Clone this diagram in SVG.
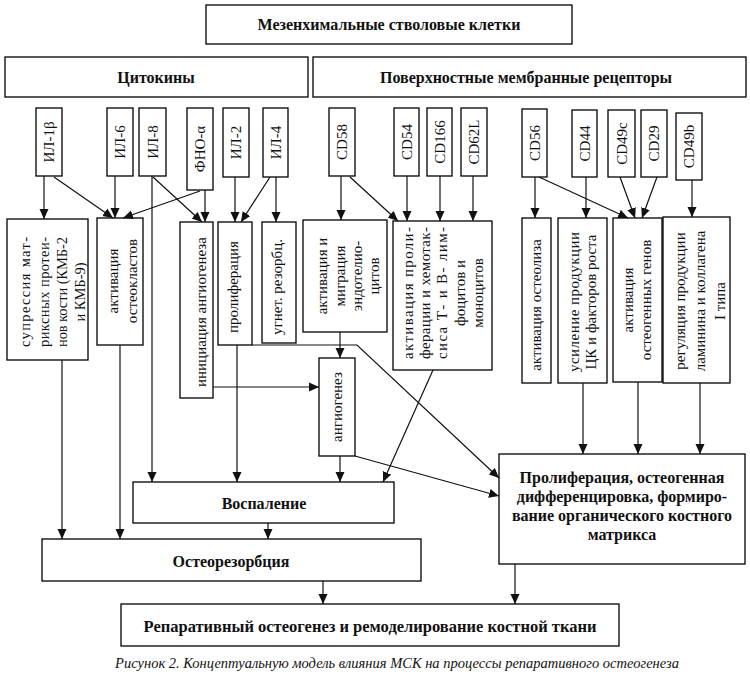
<svg xmlns="http://www.w3.org/2000/svg" width="750" height="675" viewBox="0 0 750 675">
<style>
.box{fill:#fff;stroke:#000;stroke-width:1.3}
.t{font-family:"Liberation Serif","Times New Roman",serif;font-size:15px;fill:#111;text-anchor:middle}
.s{font-size:14.5px}
.b{font-weight:bold;font-size:16px}
.cap{font-style:italic;font-size:14.5px}
.c{stroke:#111;stroke-width:1.2;fill:none;marker-end:url(#ah)}
</style>
<defs>
<marker id="ah" markerUnits="userSpaceOnUse" markerWidth="10" markerHeight="10" refX="10" refY="5" orient="auto">
<path d="M0,0.5 L10,5 L0,9.5 z" fill="#111"/>
</marker>
</defs>
<rect width="750" height="675" fill="#fff"/>

<g id="msc"><rect class="box" x="206" y="5" width="366" height="39"/><text class="t b" x="389" y="30">Мезенхимальные стволовые клетки</text></g>
<g id="cytokines"><rect class="box" x="5" y="57" width="303" height="40"/><text class="t b" x="156" y="83">Цитокины</text></g>
<g id="receptors"><rect class="box" x="313" y="57" width="433" height="40"/><text class="t b" x="526" y="83">Поверхностные мембранные рецепторы</text></g>

<g id="il1b"><rect class="box" x="36" y="108" width="26" height="68"/><text class="t" transform="translate(54,142) rotate(-90)">ИЛ-1β</text></g>
<g id="il6"><rect class="box" x="107" y="108" width="26" height="68"/><text class="t" transform="translate(125,142) rotate(-90)">ИЛ-6</text></g>
<g id="il8"><rect class="box" x="139" y="108" width="27" height="68"/><text class="t" transform="translate(157.5,142) rotate(-90)">ИЛ-8</text></g>
<g id="tnf"><rect class="box" x="187" y="108" width="26" height="82"/><text class="t" transform="translate(205,149) rotate(-90)">ФНО-α</text></g>
<g id="il2"><rect class="box" x="223" y="108" width="26" height="69"/><text class="t" transform="translate(241,142.5) rotate(-90)">ИЛ-2</text></g>
<g id="il4"><rect class="box" x="263" y="108" width="25" height="69"/><text class="t" transform="translate(280.5,142.5) rotate(-90)">ИЛ-4</text></g>
<g id="cd58"><rect class="box" x="329" y="108" width="26" height="68"/><text class="t" transform="translate(347,142) rotate(-90)">CD58</text></g>
<g id="cd54"><rect class="box" x="394" y="108" width="25" height="68"/><text class="t" transform="translate(411.5,142) rotate(-90)">CD54</text></g>
<g id="cd166"><rect class="box" x="427" y="108" width="25" height="68"/><text class="t" transform="translate(444.5,142) rotate(-90)">CD166</text></g>
<g id="cd62l"><rect class="box" x="461" y="108" width="26" height="68"/><text class="t" transform="translate(479,142) rotate(-90)">CD62L</text></g>
<g id="cd56"><rect class="box" x="522" y="109" width="25" height="68"/><text class="t" transform="translate(539.5,143) rotate(-90)">CD56</text></g>
<g id="cd44"><rect class="box" x="572" y="110" width="25" height="67"/><text class="t" transform="translate(589.5,143.5) rotate(-90)">CD44</text></g>
<g id="cd49c"><rect class="box" x="608" y="110" width="27" height="67"/><text class="t" transform="translate(626.5,143.5) rotate(-90)">CD49c</text></g>
<g id="cd29"><rect class="box" x="641" y="110" width="26" height="67"/><text class="t" transform="translate(659,143.5) rotate(-90)">CD29</text></g>
<g id="cd49b"><rect class="box" x="676" y="113" width="26" height="67"/><text class="t" transform="translate(694,146.5) rotate(-90)">CD49b</text></g>

<g id="suppression"><rect class="box" x="7" y="219" width="81" height="141"/>
<g class="t s" transform="translate(0,292) rotate(-90)">
<text x="0" y="30" textLength="110" lengthAdjust="spacing">супрессия мат-</text>
<text x="0" y="49" textLength="110" lengthAdjust="spacing">риксных протеи-</text>
<text x="0" y="67" textLength="110" lengthAdjust="spacing">нов кости (КМБ-2</text>
<text x="0" y="85">и КМБ-9)</text>
</g></g>
<g id="osteoclasts"><rect class="box" x="97" y="218" width="46" height="127"/>
<g class="t" transform="translate(0,281) rotate(-90)"><text x="0" y="118">активация</text><text x="0" y="137">остеокластов</text></g></g>
<g id="angioinit"><rect class="box" x="180" y="222" width="33" height="176"/><text class="t" transform="translate(206,312) rotate(-90)">инициация ангиогенеза</text></g>
<g id="prolif"><rect class="box" x="218" y="222" width="34" height="123"/><text class="t" transform="translate(238,287) rotate(-90)">пролиферация</text></g>
<g id="ugnet"><rect class="box" x="262" y="222" width="34" height="121"/><text class="t" transform="translate(282,287) rotate(-90)">угнет. резорбц.</text></g>
<g id="endothel"><rect class="box" x="303" y="220" width="84" height="112"/>
<g class="t" transform="translate(0,276) rotate(-90)"><text x="0" y="327">активация и</text><text x="0" y="345">миграция</text><text x="0" y="362">эндотелио-</text><text x="0" y="379">цитов</text></g></g>
<g id="lymph"><rect class="box" x="393" y="221" width="99" height="149"/>
<g class="t" transform="translate(0,293) rotate(-90)">
<text x="0" y="413" textLength="132" lengthAdjust="spacing">активация проли-</text>
<text x="0" y="430" textLength="132" lengthAdjust="spacing">ферации и хемотак-</text>
<text x="0" y="447" textLength="132" lengthAdjust="spacing">сиса Т- и В- лим-</text>
<text x="0" y="465">фоцитов и</text>
<text x="0" y="483">моноцитов</text>
</g></g>
<g id="osteolysis"><rect class="box" x="522" y="218" width="29" height="165"/><text class="t" transform="translate(541,305) rotate(-90)">активация остеолиза</text></g>
<g id="growth"><rect class="box" x="558" y="218" width="49" height="165"/>
<g class="t" transform="translate(0,302) rotate(-90)"><text x="0" y="579" textLength="140" lengthAdjust="spacing">усиление продукции</text><text x="0" y="596">ЦК и факторов роста</text></g></g>
<g id="genes"><rect class="box" x="613" y="218" width="49" height="164"/>
<g class="t" transform="translate(0,300) rotate(-90)"><text x="0" y="633">активация</text><text x="0" y="651">остеогенных генов</text></g></g>
<g id="laminin"><rect class="box" x="663" y="217" width="67" height="166"/>
<g class="t" transform="translate(0,301) rotate(-90)"><text x="0" y="685">регуляция продукции</text><text x="0" y="705">ламинина и коллагена</text><text x="0" y="725">I типа</text></g></g>

<g id="angiogenesis"><rect class="box" x="319" y="358" width="36" height="98"/><text class="t" transform="translate(342,407) rotate(-90)">ангиогенез</text></g>
<g id="inflammation"><rect class="box" x="133" y="482" width="261" height="41"/><text class="t b" x="264" y="509">Воспаление</text></g>
<g id="osteoresorption"><rect class="box" x="42" y="539" width="379" height="42"/><text class="t b" x="231" y="567">Остеорезорбция</text></g>
<g id="osteogenic"><rect class="box" x="499" y="454" width="246" height="110"/>
<text class="t b" x="622" y="483">Пролиферация, остеогенная</text>
<text class="t b" x="622" y="502">дифференцировка, формиро-</text>
<text class="t b" x="622" y="521">вание органического костного</text>
<text class="t b" x="622" y="540">матрикса</text></g>
<g id="reparative"><rect class="box" x="121" y="604" width="498" height="42"/><text class="t b" x="370" y="632" style="font-size:16.5px">Репаративный остеогенез и ремоделирование костной ткани</text></g>

<g id="connectors">
<path class="c" d="M44,176 V219"/>
<path class="c" d="M54,177 L113,218"/>
<path class="c" d="M115,176 V218"/>
<path class="c" d="M200,191 L123,218"/>
<path class="c" d="M152,176 V482"/>
<path class="c" d="M153,177 L202,222"/>
<path class="c" d="M205,190 V222"/>
<path class="c" d="M235,177 V222"/>
<path class="c" d="M270,177 L241,222"/>
<path class="c" d="M276,177 V222"/>
<path class="c" d="M341,176 V220"/>
<path class="c" d="M350,177 L398,221"/>
<path class="c" d="M407,176 V221"/>
<path class="c" d="M440,176 V221"/>
<path class="c" d="M473,176 V221"/>
<path class="c" d="M535,177 V218"/>
<path class="c" d="M539,177 L628,218"/>
<path class="c" d="M586,177 V218"/>
<path class="c" d="M620,177 L635,218"/>
<path class="c" d="M657,177 L642,218"/>
<path class="c" d="M692,180 V217"/>
<path class="c" d="M62,360 V539"/>
<path class="c" d="M120,345 V539"/>
<path class="c" d="M237,345 V482"/>
<path class="c" d="M213,387 H319"/>
<path class="c" d="M340,332 V358"/>
<path class="c" d="M340,456 V482"/>
<path class="c" d="M433,370 L383,482"/>
<path class="c" d="M252,345 H357 L499,478"/>
<path class="c" d="M355,456 L499,496"/>
<path class="c" d="M583,383 V454"/>
<path class="c" d="M638,382 V454"/>
<path class="c" d="M700,383 V454"/>
<path class="c" d="M268,523 V539"/>
<path class="c" d="M323,581 V604"/>
<path class="c" d="M515,564 V604"/>
</g>

<text class="t cap" x="397" y="668">Рисунок 2.  Концептуальную модель влияния МСК на процессы репаративного остеогенеза</text>
</svg>
